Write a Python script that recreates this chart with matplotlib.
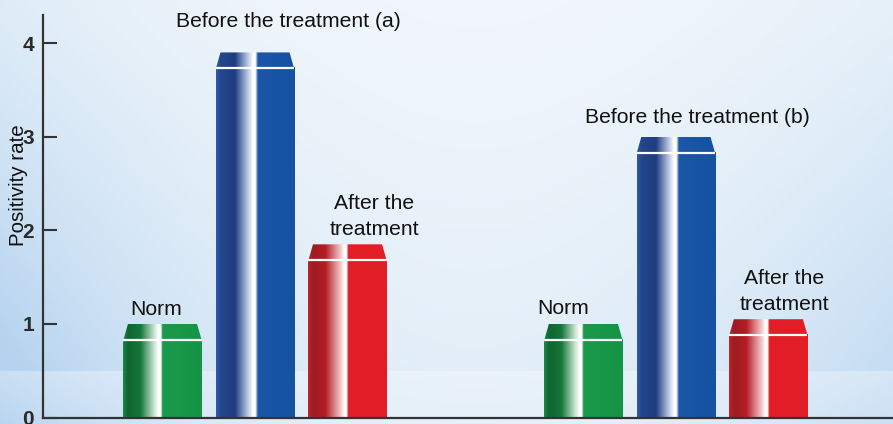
import numpy as np
import matplotlib
matplotlib.use("Agg")
import matplotlib.pyplot as plt
from matplotlib.colors import LinearSegmentedColormap, to_rgb
from matplotlib.patches import Polygon
from matplotlib import font_manager

plt.rcParams['font.family'] = ['Liberation Sans', 'DejaVu Sans']

# ---- data ----
groups = ['(a)', '(b)']
categories = ['Norm', 'Before the treatment', 'After the treatment']
values_a = [1.0, 3.9, 1.85]
values_b = [1.0, 3.0, 1.05]
y_ticks = [0, 1, 2, 3, 4]
y_label = 'Positivity rate'

# ---- geometry / style ----
W_PX, H_PX, DPI = 893, 424, 100
GROUP_GAP = 4.55
BAR_W = 0.845
BEVEL = 0.17
XLIM = (-1.292, 7.897)
YLIM = (0, 4.3)
AXIS_COLOR = '#333333'
LINE_STEP_PX = 26

bar_stops = {
    'green': [(0.00, '#1c8a45'), (0.06, '#0f6631'), (0.22, '#147739'),
              (0.40, '#cfe8d5'), (0.45, '#ffffff'), (0.48, '#ffffff'),
              (0.50, '#1a9a4a'), (1.00, '#169446')],
    'blue': [(0.00, '#2d5aa8'), (0.06, '#24468c'), (0.24, '#1f3d80'),
             (0.42, '#c9d5eb'), (0.47, '#ffffff'), (0.50, '#ffffff'),
             (0.53, '#1a57a8'), (1.00, '#1552a2')],
    'red': [(0.00, '#c4212a'), (0.06, '#9c1c22'), (0.22, '#b51d24'),
            (0.42, '#f5cfd0'), (0.46, '#ffffff'), (0.49, '#ffffff'),
            (0.51, '#e31e26'), (1.00, '#e11d25')],
}
bar_colors = ['green', 'blue', 'red']
cmaps = {k: LinearSegmentedColormap.from_list(k, v) for k, v in bar_stops.items()}

# label placement: (dx px, dy px from bar top to first baseline)
label_offsets = {
    ('(a)', 0): (-6.5, 9), ('(a)', 1): (33.5, 25), ('(a)', 2): (27, 35),
    ('(b)', 0): (-20, 10), ('(b)', 1): (21, 14), ('(b)', 2): (16, 35),
}


def label_lines(group, k):
    if k == 0:
        return ['Norm']
    if k == 1:
        return [f'Before the treatment {group}']
    return ['After the', 'treatment']


def background():
    h, w = H_PX, W_PX
    v = np.linspace(0, 1, h)[:, None]
    u = np.linspace(0, 1, w)[None, :]
    band = 0.875
    s_top = 0.30 + 0.55 * (np.clip(v / band, 0, 1) ** 1.2)
    s_bot = 0.55 + 0.2 * ((v - band) / (1 - band))
    s = np.where(v < band, s_top, s_bot)
    edge = np.abs(u - 0.5) * 2
    e = 0.35 + 0.55 * edge ** 2 + 0.35 * (1 - u) ** 4
    k = np.clip(s * e, 0, 1)[..., None]
    white = np.array(to_rgb('#f8fbfd'))
    blue = np.array(to_rgb('#b5d3ef'))
    return white * (1 - k) + blue * k


def draw_bar(ax, xc, val, cmap):
    x0, x1 = xc - BAR_W / 2, xc + BAR_W / 2
    top_body = val - BEVEL
    grad = np.linspace(0, 1, 256)[None, :]
    ax.imshow(grad, extent=(x0, x1, 0, top_body), cmap=cmap, aspect='auto',
              interpolation='bilinear', zorder=2)
    inset = BAR_W * 0.058
    cap = Polygon([(x0, top_body), (x1, top_body), (x1 - inset, val), (x0 + inset, val)],
                  closed=True, facecolor='none', edgecolor='none', transform=ax.transData)
    ax.add_patch(cap)
    im = ax.imshow(grad, extent=(x0, x1, top_body, val), cmap=cmap, aspect='auto',
                   interpolation='bilinear', zorder=2)
    im.set_clip_path(cap)
    ax.plot([x0, x1], [top_body, top_body], color='white', lw=1.6, zorder=3,
            solid_capstyle='butt')


fig = plt.figure(figsize=(W_PX / DPI, H_PX / DPI), dpi=DPI)
bg = fig.add_axes([0, 0, 1, 1], zorder=-10)
bg.imshow(background(), aspect='auto', extent=(0, 1, 0, 1), interpolation='bilinear')
bg.axis('off')

left, bottom, top = 43 / W_PX, 1 - 417.5 / H_PX, 1 - 15 / H_PX
ax = fig.add_axes([left, bottom, 1 - left, top - bottom])
ax.patch.set_alpha(0)

for gi, (group, vals) in enumerate(zip(groups, [values_a, values_b])):
    for k, val in enumerate(vals):
        xc = gi * GROUP_GAP + k
        draw_bar(ax, xc, val, cmaps[bar_colors[k]])
        dx, dy = label_offsets[(group, k)]
        for li, line in enumerate(label_lines(group, k)):
            ax.annotate(line, xy=(xc, val),
                        xytext=(dx * 0.72, (dy - li * LINE_STEP_PX) * 0.72),
                        textcoords='offset points', ha='center', va='baseline',
                        fontsize=15.2, color='#111111', zorder=5)

ax.set_xlim(*XLIM)
ax.set_ylim(*YLIM)
ax.set_xticks([])
ax.set_yticks(y_ticks)

narrow = [f.name for f in font_manager.fontManager.ttflist if f.name == 'Liberation Sans Narrow']
tick_family = ['Liberation Sans Narrow', 'Liberation Sans'] if narrow else ['Liberation Sans']
ax.set_yticklabels([str(t) for t in y_ticks], family=tick_family, fontweight='bold')
ax.tick_params(axis='y', direction='in', length=10, width=1.5, color=AXIS_COLOR,
               labelsize=15, pad=6.5, labelcolor='#2a2a2a')
for side in ('top', 'right'):
    ax.spines[side].set_visible(False)
for side in ('left', 'bottom'):
    ax.spines[side].set_color(AXIS_COLOR)
    ax.spines[side].set_linewidth(1.6)
    ax.spines[side].set_zorder(4)

fig.text(19 / W_PX, 1 - 185 / H_PX, y_label, rotation=90, ha='center', va='center',
         fontsize=14.8, color='#111111')

fig.savefig('out.png', dpi=DPI)
